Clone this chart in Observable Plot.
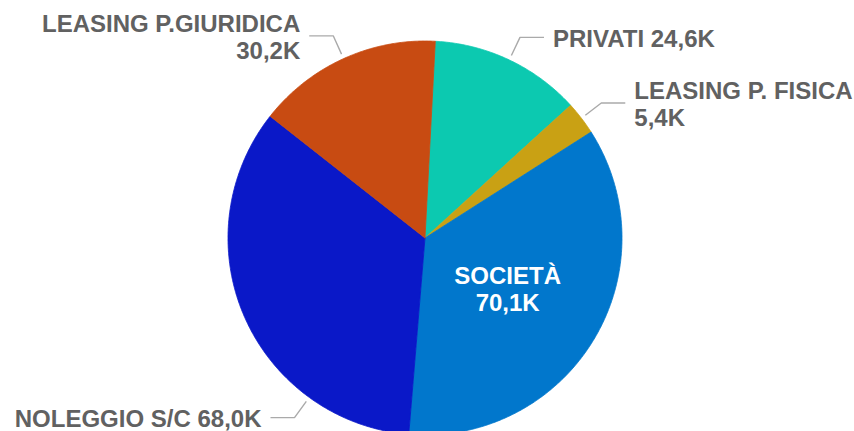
<!DOCTYPE html>
<html>
<head>
<meta charset="utf-8">
<script src="https://cdn.jsdelivr.net/npm/d3@7"></script>
<script src="https://cdn.jsdelivr.net/npm/@observablehq/plot@0.6"></script>
<style>
  html, body { margin: 0; padding: 0; background: #ffffff; }
  #chart svg { display: block; }
</style>
</head>
<body>
<div id="chart"></div>
<script>
// ---- data ----
const categories = ["PRIVATI", "LEASING P. FISICA", "SOCIETÀ", "NOLEGGIO S/C", "LEASING P.GIURIDICA"];
const values = [24.6, 5.4, 70.1, 68.0, 30.2];
const valueLabels = ["24,6K", "5,4K", "70,1K", "68,0K", "30,2K"];
const colors = ["#0cc9b0", "#c9a114", "#0177cc", "#0a18c8", "#c84b12"];

// ---- layout (not data) ----
const W = 854, H = 431, R = 197, CX = 424.5, CY = 237.5;
const startDeg = 3.0;
// per-label placement: side (+1 right, -1 left, 0 inside), separator, optional anchor angle override
const labelLayout = [
  {side: 1, sep: " "},
  {side: 1, sep: "\n"},
  {side: 0, sep: "\n"},
  {side: -1, sep: " ", anchorDeg: 216},
  {side: -1, sep: "\n"}
];

const rad = Math.PI / 180;
const arcs = d3.pie().sort(null).value(d => d)
  .startAngle(startDeg * rad).endAngle(startDeg * rad + 2 * Math.PI)(values);

const pt = (a, r) => [Math.sin(a) * r, Math.cos(a) * r];

// slice polygons (center -> arc -> center)
const slicePts = [];
arcs.forEach((a, i) => {
  const n = Math.max(2, Math.ceil((a.endAngle - a.startAngle) / (0.4 * rad)));
  slicePts.push({cat: categories[i], x: 0, y: 0});
  for (let k = 0; k <= n; k++) {
    const t = a.startAngle + (a.endAngle - a.startAngle) * k / n;
    const [x, y] = pt(t, 1);
    slicePts.push({cat: categories[i], x, y});
  }
  slicePts.push({cat: categories[i], x: 0, y: 0});
});

// leader lines and labels
const leaderPts = [];
const outerLabels = [];
const innerLabels = [];
arcs.forEach((a, i) => {
  const L = labelLayout[i];
  const mid = (a.startAngle + a.endAngle) / 2;
  const text = categories[i] + L.sep + valueLabels[i];
  if (L.side === 0) {
    const [x, y] = pt(mid, 0.49);
    innerLabels.push({x, y, text});
    return;
  }
  const ang = L.anchorDeg != null ? L.anchorDeg * rad : mid;
  const [x1, y1] = pt(ang, 1.025);
  const [x2, y2] = pt(ang, 1.127);
  const x3 = x2 + L.side * 24 / R;
  leaderPts.push({id: i, x: x1, y: y1}, {id: i, x: x2, y: y2}, {id: i, x: x3, y: y2});
  outerLabels.push({x: x2 + L.side * 33 / R, y: y2, text, anchor: L.side > 0 ? "start" : "end"});
});

const font = "'Liberation Sans', Arial, Helvetica, sans-serif";
const FS = 24;

const chart = Plot.plot({
  width: W,
  height: H,
  margin: 0,
  style: {background: "#ffffff", overflow: "visible"},
  x: {domain: [-CX / R, (W - CX) / R], range: [0, W], axis: null},
  y: {domain: [-(H - CY) / R, CY / R], range: [H, 0], axis: null},
  color: {domain: categories, range: colors},
  marks: [
    Plot.line(slicePts, {x: "x", y: "y", z: "cat", fill: "cat", stroke: "cat", strokeWidth: 0.8, curve: "linear"}),
    Plot.line(leaderPts, {x: "x", y: "y", z: "id", stroke: "#aaaaaa", strokeWidth: 1.4, strokeLinecap: "butt", strokeLinejoin: "miter"}),
    Plot.text(outerLabels.filter(d => d.anchor === "start"), {x: "x", y: "y", text: "text", textAnchor: "start", lineAnchor: "middle",
      fontSize: FS, fontWeight: "bold", fontFamily: font, fill: "#616161", lineHeight: 1.13, dy: 1}),
    Plot.text(outerLabels.filter(d => d.anchor === "end"), {x: "x", y: "y", text: "text", textAnchor: "end", lineAnchor: "middle",
      fontSize: FS, fontWeight: "bold", fontFamily: font, fill: "#616161", lineHeight: 1.13, dy: 1}),
    Plot.text(innerLabels, {x: "x", y: "y", text: "text", textAnchor: "middle", lineAnchor: "middle",
      fontSize: FS, fontWeight: "bold", fontFamily: font, fill: "#ffffff", lineHeight: 1.13, dy: 1})
  ]
});
document.getElementById("chart").appendChild(chart);
</script>
</body>
</html>
